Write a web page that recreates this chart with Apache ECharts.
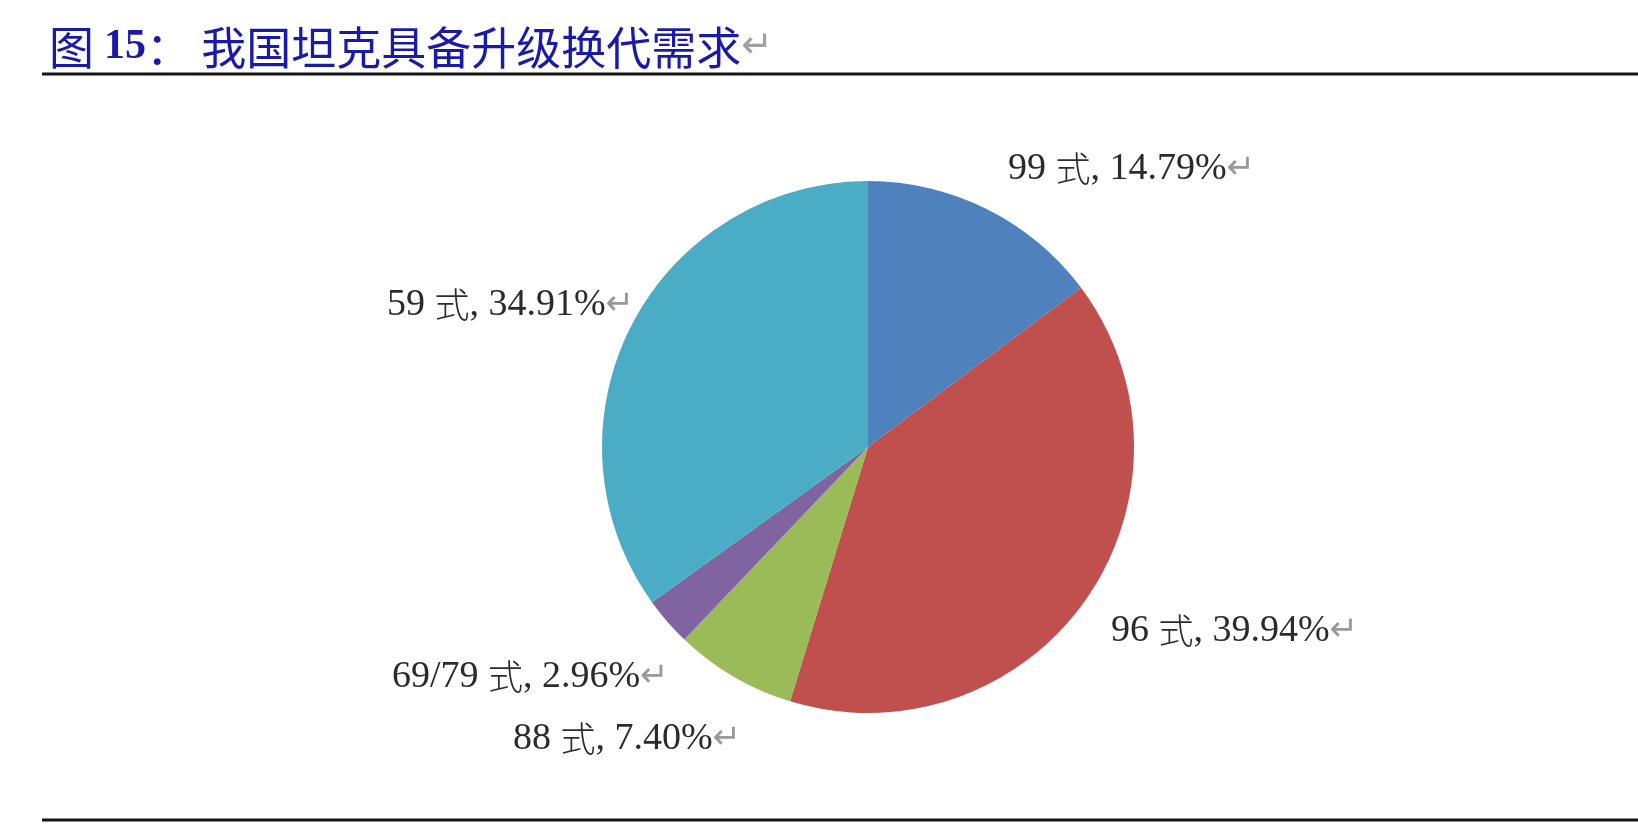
<!DOCTYPE html>
<html>
<head>
<meta charset="utf-8">
<script src="https://cdn.jsdelivr.net/npm/echarts@6/dist/echarts.min.js"></script>
<style>
  html, body { margin: 0; padding: 0; background: #fff; }
  #chart { width: 1638px; height: 824px; }
</style>
</head>
<body>
<div id="chart"></div>
<script>
// tank types and share of the fleet (%)
var tankNames = ['99', '96', '88', '69/79', '59'];
var tankShare = [14.79, 39.94, 7.40, 2.96, 34.91];
var sliceColors = ['#4F81BD', '#C0504D', '#9BBB59', '#8064A2', '#4BACC6'];

// where each label sits (left edge, vertical middle) like the Excel original
var labelPos = [[1008, 169], [1111, 631], [513, 739], [392, 677], [387, 305]];

var pieData = tankNames.map(function (n, i) {
    return { name: n, value: tankShare[i], itemStyle: { color: sliceColors[i] } };
});

var chart = echarts.init(document.getElementById('chart'));

chart.setOption({
    backgroundColor: '#ffffff',
    animation: false,
    title: {
        left: 44,
        top: 20,
        text: '{cn|图 }{num|15}{cn|： 我国坦克具备升级换代需求}{r|↵}',
        textStyle: {
            fontWeight: 'normal',
            rich: {
                cn: { fontFamily: 'Noto Sans CJK SC', fontSize: 45, fontWeight: 'normal', color: '#1a1aa8' },
                num: { fontFamily: 'Liberation Serif', fontWeight: 'bold', fontSize: 42, color: '#1a1aa8' },
                r: { fontFamily: 'DejaVu Sans', fontSize: 38, fontWeight: 'normal', color: '#a0a0a0' }
            }
        }
    },
    graphic: [
        { type: 'line', shape: { x1: 42, y1: 74, x2: 1638, y2: 74 }, style: { stroke: '#151515', lineWidth: 3 } },
        { type: 'line', shape: { x1: 42, y1: 820, x2: 1638, y2: 820 }, style: { stroke: '#151515', lineWidth: 3 } }
    ],
    series: [
        {
            type: 'pie',
            center: [868, 447],
            radius: [0, 266],
            startAngle: 90,
            clockwise: true,
            avoidLabelOverlap: false,
            itemStyle: { borderWidth: 0 },
            data: pieData,
            labelLine: { show: false },
            label: {
                show: true,
                position: 'outside',
                formatter: function (p) {
                    return '{n|' + p.name + ' }{c|式}{n|, ' + p.value.toFixed(2) + '%}{r|↵}';
                },
                rich: {
                    n: { fontFamily: 'Liberation Serif', fontSize: 38, color: '#2b2b2b' },
                    c: { fontFamily: 'Noto Sans CJK SC', fontSize: 35, fontWeight: 300, color: '#2b2b2b' },
                    r: { fontFamily: 'DejaVu Sans', fontSize: 34, color: '#999999' }
                }
            },
            labelLayout: function (params) {
                var p = labelPos[params.dataIndex];
                return { x: p[0], y: p[1], align: 'left', verticalAlign: 'middle' };
            }
        }
    ]
});
</script>
</body>
</html>
